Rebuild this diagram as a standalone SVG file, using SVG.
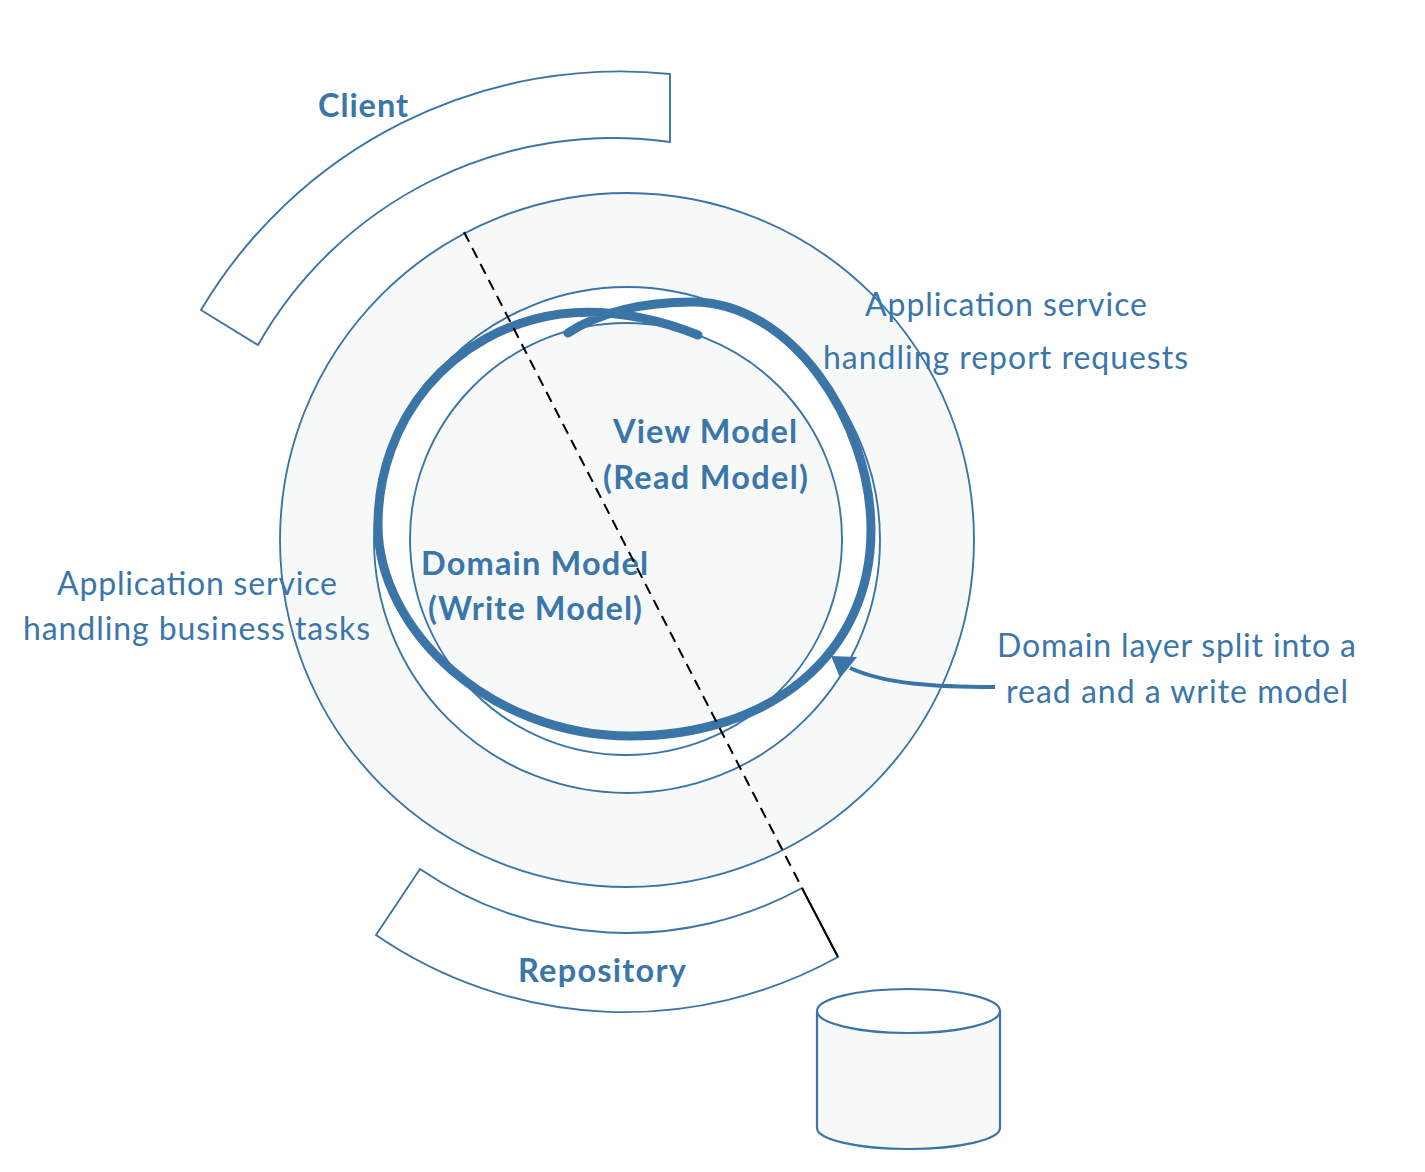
<svg xmlns="http://www.w3.org/2000/svg" width="1425" height="1172" viewBox="0 0 1425 1172">
<style>
.ln{fill:none;stroke:#3b75a8;stroke-width:1.9}
.t{font-family:Lato,"Noto Sans","DejaVu Sans",sans-serif;fill:#3b76aa;font-size:32px}
.b{font-family:Lato,"Noto Sans","DejaVu Sans",sans-serif;fill:#3b76aa;font-size:32.5px;font-weight:bold}
</style>
<defs>
<clipPath id="swirlClip"><path d="M560,314 C610,308 660,320 693,302 C790,302 871,420 871,530 C871,655 770,736 630,736 C490,736 378,630 378,525 C378,420 450,330 560,314 Z"/></clipPath>
</defs>
<rect width="1425" height="1172" fill="#ffffff"/>
<g id="client">
<path class="ln" d="M201,310 A487,487 0 0 1 670,74 L670,142 A408,408 0 0 0 258,345 Z" style="fill:#ffffff"/>
<text class="b" x="318" y="117" textLength="90">Client</text>
</g>
<g id="application-service">
<circle class="ln" cx="627" cy="540" r="347" style="fill:#f7f9f9"/>
<circle class="ln" cx="627" cy="540" r="253" style="fill:#ffffff"/>
<text class="t" x="865" y="316" textLength="282">Application service</text>
<text class="t" x="823" y="369" textLength="365">handling report requests</text>
<text class="t" x="57" y="595" textLength="280">Application service</text>
<text class="t" x="23" y="640" textLength="347">handling business tasks</text>
</g>
<g id="domain-model">
<circle cx="626" cy="539" r="216" fill="#f7f9f9" clip-path="url(#swirlClip)"/>
<circle class="ln" cx="626" cy="539" r="216"/>
<path d="M568,333 C600,312 640,302 693,302 C790,302 871,420 871,530 C871,655 770,736 630,736 C490,736 378,630 378,525 C378,420 450,330 560,314 C610,308 660,320 698,335" fill="none" stroke="#3b75a8" stroke-width="9" stroke-linecap="round"/>
<text class="b" x="613" y="443" textLength="184">View Model</text>
<text class="b" x="603" y="489" textLength="205">(Read Model)</text>
<text class="b" x="421" y="575" textLength="227">Domain Model</text>
<text class="b" x="428" y="620" textLength="214">(Write Model)</text>
</g>
<g id="repository">
<path class="ln" d="M420,869 A365,365 0 0 0 802,888 L838,957 A440,440 0 0 1 376,935 Z" style="fill:#ffffff"/>
<text class="b" x="518" y="982" textLength="168">Repository</text>
</g>
<g id="database">
<path class="ln" d="M817,1011 L817,1128 A91.5,21 0 0 0 1000,1128 L1000,1011" style="fill:#f7f9f9;stroke-width:2.2"/>
<ellipse class="ln" cx="908.5" cy="1011" rx="91.5" ry="22" style="fill:#ffffff;stroke-width:2.2"/>
</g>
<g id="note">
<text class="t" x="997" y="657" textLength="359">Domain layer split into a</text>
<text class="t" x="1006" y="703" textLength="342">read and a write model</text>
</g>
<g id="connectors">
<line x1="464" y1="232" x2="802" y2="888" stroke="#000" stroke-width="2" stroke-dasharray="11 7"/>
<line x1="802" y1="888" x2="838" y2="957" stroke="#000" stroke-width="2"/>
<path d="M995,687 C935,687 885,684 850,668" fill="none" stroke="#3b75a8" stroke-width="4"/>
<polygon points="831,656 857,657 849,667 840,678" fill="#3b75a8"/>
</g>
</svg>
